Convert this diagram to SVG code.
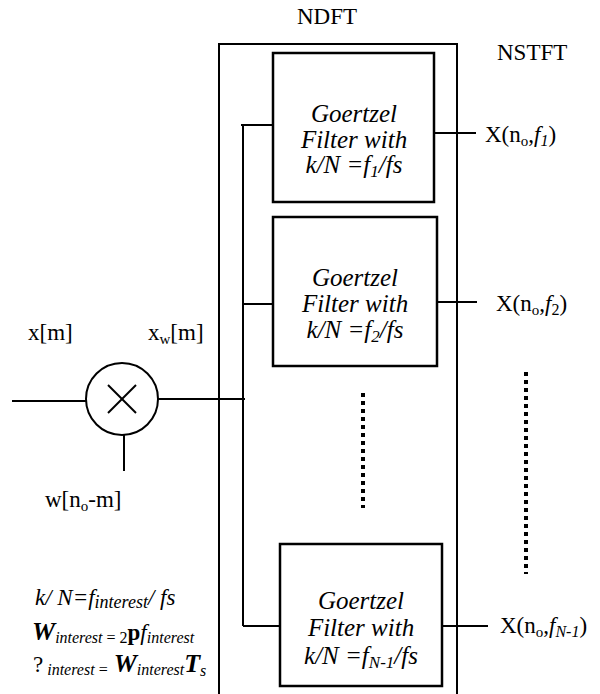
<svg xmlns="http://www.w3.org/2000/svg" width="600" height="694" viewBox="0 0 600 694">
<style>
.ln{stroke:#000;stroke-width:2;fill:none}
.bx{stroke:#000;stroke-width:2.5;fill:#fff}
text{font-family:'Liberation Serif','DejaVu Serif',serif}
.t{font-size:23px;fill:#000}
.bt{font-size:25px;font-style:italic;fill:#000;text-anchor:middle}
.dot{stroke:#000;stroke-width:4;stroke-dasharray:4 4;fill:none}
</style>
<rect width="600" height="694" fill="#fff"/>
<g id="ndft">
<polyline class="ln" points="219,694 219,44 457,44 457,694"/>
<text class="t" x="297" y="24" font-size="24">NDFT</text>
</g>
<text class="t" x="497" y="60" font-size="24">NSTFT</text>
<g id="connectors">
<line class="ln" x1="12" y1="401" x2="86" y2="401"/>
<line class="ln" x1="158" y1="399" x2="245" y2="399"/>
<line class="ln" x1="124" y1="435" x2="124" y2="471"/>
<line class="ln" x1="243" y1="125" x2="243" y2="626"/>
<line class="ln" x1="241" y1="125" x2="273" y2="125"/>
<line class="ln" x1="243" y1="304" x2="273" y2="304"/>
<line class="ln" x1="243" y1="626" x2="280" y2="626"/>
<line class="ln" x1="434" y1="133" x2="476" y2="133"/>
<line class="ln" x1="437" y1="302" x2="477" y2="302"/>
<line class="ln" x1="442" y1="626" x2="488" y2="626"/>
<line class="dot" x1="363" y1="393" x2="363" y2="508"/>
<line class="dot" x1="526" y1="372" x2="526" y2="574"/>
</g>
<g id="mult">
<circle class="ln" cx="122" cy="399" r="36"/>
<line class="ln" x1="108" y1="385" x2="136" y2="413"/>
<line class="ln" x1="136" y1="385" x2="108" y2="413"/>
</g>
<text class="t" x="28" y="340">x[m]</text>
<text class="t" x="148" y="340">x<tspan font-size="15" dy="4">w</tspan><tspan dy="-4">[m]</tspan></text>
<text class="t" x="45" y="507">w[n<tspan font-size="15" dy="4">o</tspan><tspan dy="-4">-m]</tspan></text>
<g id="box1">
<rect class="bx" x="273" y="53" width="161" height="149"/>
<text class="bt" x="354" y="122">Goertzel</text>
<text class="bt" x="354" y="148">Filter with</text>
<text class="bt" x="354" y="173">k/N =f<tspan font-size="17" dy="4">1</tspan><tspan dy="-4">/fs</tspan></text>
</g>
<g id="box2">
<rect class="bx" x="273" y="217" width="164" height="149"/>
<text class="bt" x="355" y="286">Goertzel</text>
<text class="bt" x="355" y="312">Filter with</text>
<text class="bt" x="355" y="338">k/N =f<tspan font-size="17" dy="4">2</tspan><tspan dy="-4">/fs</tspan></text>
</g>
<g id="box3">
<rect class="bx" x="280" y="544" width="162" height="142"/>
<text class="bt" x="361" y="609">Goertzel</text>
<text class="bt" x="361" y="636">Filter with</text>
<text class="bt" x="361" y="664">k/N =f<tspan font-size="17" dy="4">N-1</tspan><tspan dy="-4">/fs</tspan></text>
</g>
<text class="t" x="485" y="142" font-size="24">X(n<tspan font-size="15" dy="4">o</tspan><tspan dy="-4">,</tspan><tspan font-style="italic">f</tspan><tspan font-size="16" font-style="italic" dy="4">1</tspan><tspan dy="-4">)</tspan></text>
<text class="t" x="496" y="311" font-size="24">X(n<tspan font-size="15" dy="4">o</tspan><tspan dy="-4">,</tspan><tspan font-style="italic">f</tspan><tspan font-size="16" dy="4">2</tspan><tspan dy="-4">)</tspan></text>
<text class="t" x="500" y="633" font-size="24">X(n<tspan font-size="15" dy="4">o</tspan><tspan dy="-4">,</tspan><tspan font-style="italic">f</tspan><tspan font-size="16" font-style="italic" dy="4">N-1</tspan><tspan dy="-4">)</tspan></text>
<g id="formulas">
<text class="t" x="35" y="605" font-style="italic" font-size="25">k/ N=f<tspan font-size="18" dy="3">interest</tspan><tspan dy="-3">/ fs</tspan></text>
<text class="t" x="32" y="640" font-style="italic"><tspan font-weight="bold" font-size="26">W</tspan><tspan font-size="16" dy="3">interest <tspan font-style="normal">= 2</tspan></tspan><tspan font-weight="bold" font-style="normal" dy="-3">p</tspan>f<tspan font-size="16" dy="3">interest</tspan></text>
<text class="t" x="33" y="672"><tspan>?</tspan><tspan font-size="16" font-style="italic" dy="3"> interest </tspan><tspan font-size="16">=</tspan><tspan font-weight="bold" font-style="italic" font-size="26" dy="-3"> W</tspan><tspan font-size="16" font-style="italic" dy="3">interest</tspan><tspan font-weight="bold" font-style="italic" font-size="26" dy="-3">T</tspan><tspan font-size="16" font-style="italic" dy="4">s</tspan></text>
</g>
</svg>
